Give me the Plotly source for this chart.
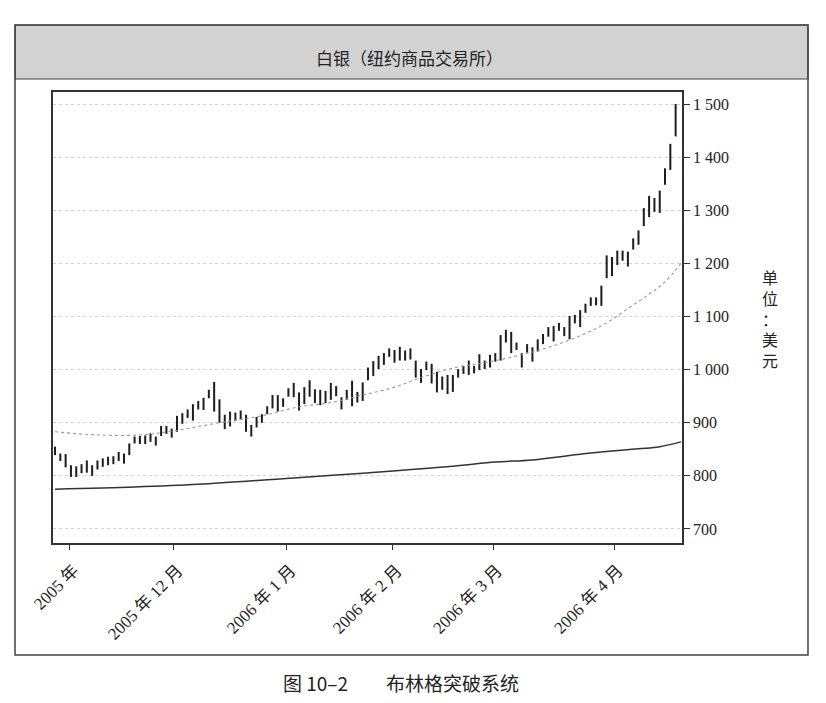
import plotly.graph_objects as go

# 白银日线 (高/低)
high = [855, 842, 841, 820, 818, 822, 829, 820, 829, 833,
        836, 837, 845, 842, 861, 874, 875, 876, 880, 874,
        894, 894, 889, 913, 918, 925, 935, 941, 947, 962,
        977, 944, 915, 921, 919, 923, 915, 896, 911, 916,
        931, 952, 952, 946, 965, 975, 957, 967, 980, 963,
        962, 960, 975, 969, 948, 962, 979, 958, 976, 1004,
        1016, 1026, 1031, 1040, 1037, 1043, 1036, 1040, 1017, 1001,
        1015, 1011, 996, 987, 990, 990, 1001, 1007, 1017, 1007,
        1029, 1017, 1028, 1031, 1065, 1075, 1071, 1051, 1031, 1048,
        1042, 1057, 1067, 1080, 1082, 1088, 1080, 1101, 1103, 1112,
        1124, 1136, 1136, 1158, 1215, 1212, 1224, 1224, 1222, 1247,
        1262, 1304, 1327, 1323, 1337, 1379, 1425, 1500]
low = [839, 828, 816, 798, 798, 805, 806, 800, 812, 817,
       820, 822, 828, 823, 839, 861, 860, 860, 864, 857,
       875, 879, 872, 883, 898, 909, 904, 925, 924, 946,
       921, 900, 888, 893, 904, 906, 883, 874, 891, 900,
       916, 927, 921, 930, 949, 948, 923, 935, 949, 937,
       933, 937, 943, 950, 925, 943, 931, 938, 941, 980,
       988, 1001, 1009, 1024, 1013, 1017, 1017, 1019, 985, 975,
       999, 974, 957, 962, 954, 958, 985, 992, 990, 993,
       999, 1001, 1004, 1015, 1017, 1051, 1031, 1037, 1004, 1032,
       1015, 1034, 1048, 1062, 1053, 1073, 1063, 1057, 1087, 1080,
       1107, 1120, 1121, 1120, 1172, 1176, 1197, 1205, 1194, 1226,
       1235, 1270, 1287, 1297, 1295, 1348, 1376, 1439]

# 均线 (虚线) 与长期线 (实线)，按K线序号取点
mid_idx = [0, 8, 16, 22, 31, 39, 46, 52, 58, 64, 69, 75, 81, 88, 94, 100, 104, 108, 112, 115, 118]
mid_val = [883, 877, 877, 884, 900, 913, 930, 938, 952, 967, 985, 1003, 1013, 1028, 1045, 1068, 1088, 1115, 1142, 1165, 1200]
long_idx = [0, 15, 27, 45, 58, 75, 83, 90, 101, 110, 114, 118]
long_val = [775, 779, 784, 796, 805, 818, 826, 830, 843, 851, 855, 864]

tick_pos = [2.8, 22.4, 43.7, 63.7, 82.6, 105.4]
tick_text = ["2005 年", "2005 年 12 月", "2006 年 1 月", "2006 年 2 月", "2006 年 3 月", "2006 年 4 月"]

idx = list(range(len(high)))
rng = [h - l for h, l in zip(high, low)]

fig = go.Figure()
fig.add_trace(go.Scatter(x=long_idx, y=long_val, mode="lines", line_shape="spline",
                         line=dict(color="#333333", width=1.5), hoverinfo="skip"))
fig.add_trace(go.Scatter(x=mid_idx, y=mid_val, mode="lines", line_shape="spline",
                         line=dict(color="#9a9a9a", width=1.1, dash="dot"), hoverinfo="skip"))
fig.add_trace(go.Bar(x=idx, y=rng, base=low, width=0.38,
                     marker=dict(color="#1e1e1e", line=dict(width=0))))

serif = "Liberation Serif, Noto Sans CJK SC, serif"
cjk = "Noto Sans CJK SC, sans-serif"

# 页面 body 有 8px 边距，边距按此扣除
fig.update_layout(
    width=826, height=703,
    margin=dict(l=45, r=152, t=84, b=168),
    paper_bgcolor="white", plot_bgcolor="white",
    showlegend=False,
    separators=". ",
    xaxis=dict(range=[-0.38, 118.2], tickvals=tick_pos, ticktext=tick_text,
               tickangle=-45, ticks="outside", ticklen=5, tickcolor="#333",
               ticklabelshift=4, ticklabelstandoff=4,
               tickfont=dict(family=serif, size=17, color="#222"),
               showgrid=False, zeroline=False,
               showline=True, linecolor="#333", linewidth=1.5, mirror=True),
    yaxis=dict(range=[673.6, 1522.6], side="right", dtick=100, tickformat=",d",
               ticks="outside", ticklen=6, tickcolor="#333",
               tickfont=dict(family=serif, size=16, color="#222"),
               showgrid=True, gridcolor="#d2d2d2", griddash="dot", gridwidth=1,
               zeroline=False,
               showline=True, linecolor="#333", linewidth=1.5, mirror=True),
    shapes=[
        # 标题灰条
        dict(type="rect", xref="paper", yref="paper", x0=-0.0604, x1=1.2003, y0=1.0288, y1=1.1486,
             fillcolor="#d2d2d2", line=dict(color="#444", width=1.2), layer="below"),
        # 外框
        dict(type="rect", xref="paper", yref="paper", x0=-0.0604, x1=1.2003, y0=-0.2483, y1=1.1486,
             line=dict(color="#444", width=1.5)),
    ],
    annotations=[
        dict(text="白银（纽约商品交易所）", xref="paper", yref="paper", x=0.567, y=1.0754,
             xanchor="center", yanchor="middle",
             showarrow=False, font=dict(family=cjk, size=17, color="#222")),
        dict(text="单<br>位<br>：<br>美<br>元", xref="paper", yref="paper", x=1.14, y=0.495,
             xanchor="center", yanchor="middle",
             showarrow=False, font=dict(family=serif, size=16, color="#222")),
        dict(text="图 10–2　　布林格突破系统", xref="paper", yref="paper", x=0.553, y=-0.3104,
             xanchor="center", yanchor="middle",
             showarrow=False, font=dict(family=cjk, size=19, color="#222")),
    ],
)

fig.write_html("out.html")
